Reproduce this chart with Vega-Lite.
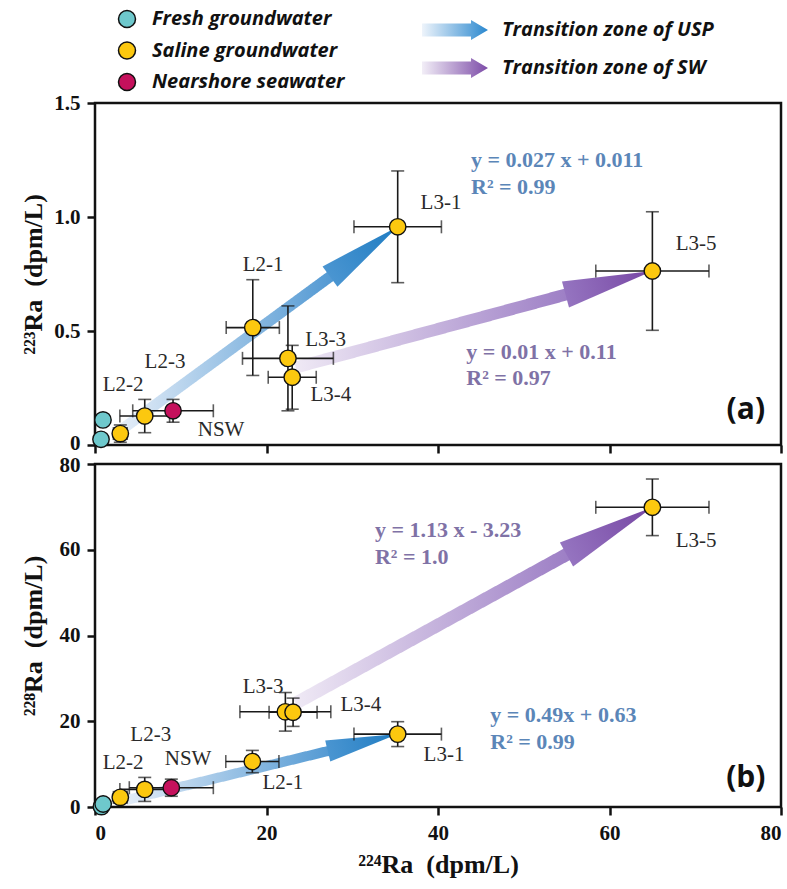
{
  "$schema": "https://vega.github.io/schema/vega-lite/v6.json",
  "padding": {"left": 18, "top": 9, "right": 5, "bottom": 0},
  "background": "white",
  "bounds": "flush",
  "spacing": 19,
  "config": {
    "view": {"stroke": "#111", "strokeWidth": 2.5},
    "axis": {
      "domain": false, "grid": false,
      "tickColor": "#111", "tickWidth": 2.5, "tickSize": 8,
      "labelFont": "Liberation Serif", "labelFontSize": 21, "labelFontWeight": "bold", "labelColor": "#111", "labelPadding": 7,
      "titleFont": "Liberation Serif", "titleFontSize": 26, "titleFontWeight": "bold", "titleColor": "#111"
    },
    "axisX": {"labelPadding": 7}
  },
  "datasets": {
    "ptsA": [
      {"type": "Fresh groundwater", "ra224": 0.93, "ra223": 0.11},
      {"type": "Fresh groundwater", "ra224": 0.7, "ra223": 0.025},
      {"type": "Saline groundwater", "site": "L2-2", "ra224": 2.95, "ra223": 0.05, "e224": 0.8, "e223": 0.038},
      {"type": "Saline groundwater", "site": "L2-3", "ra224": 5.8, "ra223": 0.127, "e224": 2.9, "e223": 0.073},
      {"type": "Nearshore seawater", "site": "NSW", "ra224": 9.1, "ra223": 0.15, "e224": 4.7, "e223": 0.05},
      {"type": "Saline groundwater", "site": "L2-1", "ra224": 18.4, "ra223": 0.515, "e224": 3.1, "e223": 0.21},
      {"type": "Saline groundwater", "site": "L3-3", "ra224": 22.5, "ra223": 0.38, "e224": 5.3, "e223": 0.23},
      {"type": "Saline groundwater", "site": "L3-4", "ra224": 23.0, "ra223": 0.297, "e224": 2.8, "e223": 0.14},
      {"type": "Saline groundwater", "site": "L3-1", "ra224": 35.3, "ra223": 0.957, "e224": 5.1, "e223": 0.245},
      {"type": "Saline groundwater", "site": "L3-5", "ra224": 65.0, "ra223": 0.763, "e224": 6.6, "e223": 0.26}
    ],
    "ptsB": [
      {"type": "Fresh groundwater", "ra224": 0.75, "ra228": 0.1},
      {"type": "Fresh groundwater", "ra224": 0.95, "ra228": 0.7},
      {"type": "Saline groundwater", "site": "L2-2", "ra224": 2.95, "ra228": 2.25, "e224": 0.8, "e228": 1.0},
      {"type": "Saline groundwater", "site": "L2-3", "ra224": 5.8, "ra228": 4.1, "e224": 2.9, "e228": 2.8},
      {"type": "Nearshore seawater", "site": "NSW", "ra224": 8.9, "ra228": 4.5, "e224": 4.9, "e228": 2.0},
      {"type": "Saline groundwater", "site": "L2-1", "ra224": 18.35, "ra228": 10.6, "e224": 3.1, "e228": 2.6},
      {"type": "Saline groundwater", "site": "L3-3", "ra224": 22.2, "ra228": 22.2, "e224": 5.3, "e228": 4.5},
      {"type": "Saline groundwater", "site": "L3-4", "ra224": 23.1, "ra228": 22.1, "e224": 2.8, "e228": 3.3},
      {"type": "Saline groundwater", "site": "L3-1", "ra224": 35.3, "ra228": 17.0, "e224": 5.1, "e228": 2.9},
      {"type": "Saline groundwater", "site": "L3-5", "ra224": 65.0, "ra228": 69.9, "e224": 6.6, "e228": 6.6}
    ],
    "arrA": [
      {"zone": "Transition zone of USP", "part": "shaft", "ra224": 3.0, "ra223": 0.065, "ra224_to": 28.26, "ra223_to": 0.762},
      {"zone": "Transition zone of USP", "part": "head", "ra224": 35.3, "ra223": 0.957},
      {"zone": "Transition zone of SW", "part": "shaft", "ra224": 23.4, "ra223": 0.34, "ra224_to": 56.0, "ra223_to": 0.671},
      {"zone": "Transition zone of SW", "part": "head", "ra224": 65.0, "ra223": 0.763}
    ],
    "arrB": [
      {"zone": "Transition zone of USP", "part": "shaft", "ra224": 3.6, "ra228": 1.6, "ra224_to": 28.03, "ra228_to": 13.47},
      {"zone": "Transition zone of USP", "part": "head", "ra224": 35.3, "ra228": 17.0},
      {"zone": "Transition zone of SW", "part": "shaft", "ra224": 23.4, "ra228": 24.2, "ra224_to": 56.0, "ra228_to": 60.0},
      {"zone": "Transition zone of SW", "part": "head", "ra224": 65.0, "ra228": 69.9}
    ],
    "labA": [
      {"text": "L3-1", "ra224": 40.35, "ra223": 1.061},
      {"text": "L2-1", "ra224": 19.6, "ra223": 0.789},
      {"text": "L3-3", "ra224": 26.9, "ra223": 0.46},
      {"text": "L3-4", "ra224": 27.5, "ra223": 0.219},
      {"text": "L2-3", "ra224": 8.16, "ra223": 0.364},
      {"text": "L2-2", "ra224": 3.27, "ra223": 0.263},
      {"text": "NSW", "ra224": 14.7, "ra223": 0.066},
      {"text": "L3-5", "ra224": 70.1, "ra223": 0.882}
    ],
    "labB": [
      {"text": "L3-3", "ra224": 19.6, "ra228": 28.0},
      {"text": "L3-4", "ra224": 31.0, "ra228": 23.8},
      {"text": "L2-3", "ra224": 6.5, "ra228": 16.8},
      {"text": "L2-2", "ra224": 3.27, "ra228": 10.3},
      {"text": "NSW", "ra224": 10.85, "ra228": 11.2},
      {"text": "L2-1", "ra224": 21.9, "ra228": 5.6},
      {"text": "L3-1", "ra224": 40.7, "ra228": 12.1},
      {"text": "L3-5", "ra224": 70.1, "ra228": 62.0}
    ],
    "eqA": [
      {"zone": "USP", "text": "y = 0.027 x + 0.011", "ra224": 43.85, "ra223": 1.25},
      {"zone": "USP", "text": "R² = 0.99", "ra224": 43.85, "ra223": 1.132},
      {"zone": "SW", "text": "y = 0.01 x + 0.11", "ra224": 43.3, "ra223": 0.408},
      {"zone": "SW", "text": "R² = 0.97", "ra224": 43.3, "ra223": 0.294},
      {"zone": "tag", "text": "(a)", "ra224": 75.9, "ra223": 0.154}
    ],
    "eqB": [
      {"zone": "SW", "text": "y = 1.13 x - 3.23", "ra224": 32.65, "ra228": 64.6},
      {"zone": "SW", "text": "R² = 1.0", "ra224": 32.65, "ra228": 58.3},
      {"zone": "USP", "text": "y = 0.49x + 0.63", "ra224": 46.1, "ra228": 21.4},
      {"zone": "USP", "text": "R² = 0.99", "ra224": 46.1, "ra228": 15.2},
      {"zone": "tag", "text": "(b)", "ra224": 75.9, "ra228": 6.8}
    ]
  },
  "vconcat": [
    {
      "width": 686,
      "height": 342,
      "encoding": {
        "x": {"field": "ra224", "type": "quantitative", "title": null,
              "scale": {"domain": [0, 80], "nice": false, "zero": false},
              "axis": {"values": [0, 20, 40, 60, 80], "labels": false, "title": null}},
        "y": {"field": "ra223", "type": "quantitative", "title": "²²³Ra\u00a0 (dpm/L)",
              "scale": {"domain": [0, 1.5], "nice": false},
              "axis": {"values": [0, 0.5, 1, 1.5],
                       "labelExpr": "datum.value === 0 ? '0' : format(datum.value, '.1f')",
                       "labelOffset": {"condition": {"test": "datum.value === 0", "value": -2}, "value": 0},
                       "titleX": -62, "titleY": 171, "titleAlign": "center", "titleBaseline": "middle", "titleAngle": -90}}
      },
      "layer": [
        {
          "data": {"name": "arrA"},
          "transform": [{"filter": "datum.zone === 'Transition zone of USP' && datum.part === 'shaft'"}],
          "mark": {"type": "rule", "strokeWidth": 11, "strokeCap": "butt",
                   "stroke": {"gradient": "linear", "x1": 0, "y1": 0, "x2": 1, "y2": 0,
                              "stops": [{"offset": 0, "color": "#e4edf8"}, {"offset": 1, "color": "#4f97d2"}]}},
          "encoding": {
            "x2": {"field": "ra224_to"}, "y2": {"field": "ra223_to"},
            "strokeDash": {"field": "zone", "type": "nominal",
              "scale": {"domain": ["Transition zone of USP", "Transition zone of SW"], "range": [[1, 0], [1, 0]]},
              "legend": {"orient": "none", "legendX": 350, "legendY": -83, "title": null, "padding": 0,
                "symbolType": "M-3.3,-0.65L1.6,-0.65L1.6,-1L3.3,0L1.6,1L1.6,0.65L-3.3,0.65Z", "symbolSize": 400,
                "symbolStrokeWidth": 0, "symbolStrokeColor": "transparent", "symbolOpacity": 1,
                "symbolFillColor": {"expr": "datum.value === 'Transition zone of USP' ? {gradient: 'linear', stops: [{offset: 0, color: '#eef4fb'}, {offset: 1, color: '#2a88cf'}]} : {gradient: 'linear', stops: [{offset: 0, color: '#f2eef7'}, {offset: 1, color: '#7d4ca8'}]}"},
                "labelFont": "Open Sans", "labelFontSize": 20, "labelFontWeight": "bold", "labelFontStyle": "italic", "labelColor": "#111",
                "labelOffset": 37, "labelLimit": 400, "rowPadding": 18}}
          }
        },
        {
          "data": {"name": "arrA"},
          "transform": [{"filter": "datum.zone === 'Transition zone of SW' && datum.part === 'shaft'"}],
          "mark": {"type": "rule", "strokeWidth": 12, "strokeCap": "butt",
                   "stroke": {"gradient": "linear", "x1": 0, "y1": 0, "x2": 1, "y2": 0,
                              "stops": [{"offset": 0, "color": "#efe9f5"}, {"offset": 1, "color": "#9b7cc4"}]}},
          "encoding": {
            "x2": {"field": "ra224_to"}, "y2": {"field": "ra223_to"},
            "strokeDash": {"field": "zone", "type": "nominal"}
          }
        },
        {
          "data": {"name": "arrA"},
          "transform": [{"filter": "datum.zone === 'Transition zone of USP' && datum.part === 'head'"}],
          "mark": {"type": "point", "shape": "M0,0L-2,-0.3L-2,0.3Z", "size": 7056, "angle": -36.3,
                   "filled": true, "opacity": 1, "strokeWidth": 0,
                   "fill": {"gradient": "linear", "stops": [{"offset": 0, "color": "#4a95d1"}, {"offset": 1, "color": "#1f7cc2"}]}}
        },
        {
          "data": {"name": "arrA"},
          "transform": [{"filter": "datum.zone === 'Transition zone of SW' && datum.part === 'head'"}],
          "mark": {"type": "point", "shape": "M0,0L-2,-0.3L-2,0.3Z", "size": 8100, "angle": -15.1,
                   "filled": true, "opacity": 1, "strokeWidth": 0,
                   "fill": {"gradient": "linear", "stops": [{"offset": 0, "color": "#9574c0"}, {"offset": 1, "color": "#7646a3"}]}}
        },
        {
          "data": {"name": "ptsA"},
          "transform": [{"filter": "datum.e224 > 0"}],
          "mark": {"type": "errorbar", "ticks": true, "size": 13, "thickness": 1.6, "color": "#1a1a1a"},
          "encoding": {"xError": {"field": "e224"}}
        },
        {
          "data": {"name": "ptsA"},
          "transform": [{"filter": "datum.e223 > 0"}],
          "mark": {"type": "errorbar", "ticks": true, "size": 13, "thickness": 1.6, "color": "#1a1a1a"},
          "encoding": {"yError": {"field": "e223"}}
        },
        {
          "data": {"name": "ptsA"},
          "mark": {"type": "point", "shape": "circle", "filled": true, "size": 270, "opacity": 1, "stroke": "#111", "strokeWidth": 1.4},
          "encoding": {
            "color": {"field": "type", "type": "nominal",
              "scale": {"domain": ["Fresh groundwater", "Saline groundwater", "Nearshore seawater"], "range": ["#6ec8cc", "#fcc80f", "#c5115c"]},
              "legend": {"orient": "none", "legendX": 22, "legendY": -94, "title": null, "padding": 0,
                "symbolType": "circle", "symbolSize": 289, "symbolStrokeColor": "#111", "symbolStrokeWidth": 1.5, "symbolOpacity": 1,
                "labelFont": "Open Sans", "labelFontSize": 20, "labelFontWeight": "bold", "labelFontStyle": "italic", "labelColor": "#111",
                "labelOffset": 15, "labelLimit": 400, "rowPadding": 7.5}}
          }
        },
        {
          "data": {"name": "labA"},
          "mark": {"type": "text", "font": "Liberation Serif", "fontSize": 21, "color": "#2a2a2a", "align": "center", "baseline": "middle"},
          "encoding": {"text": {"field": "text"}}
        },
        {
          "data": {"name": "eqA"},
          "transform": [{"filter": "datum.zone === 'USP'"}],
          "mark": {"type": "text", "font": "Liberation Serif", "fontSize": 22, "fontWeight": "bold", "color": "#5b86b8", "align": "left", "baseline": "middle"},
          "encoding": {"text": {"field": "text"}}
        },
        {
          "data": {"name": "eqA"},
          "transform": [{"filter": "datum.zone === 'SW'"}],
          "mark": {"type": "text", "font": "Liberation Serif", "fontSize": 22, "fontWeight": "bold", "color": "#7f72a6", "align": "left", "baseline": "middle"},
          "encoding": {"text": {"field": "text"}}
        },
        {
          "data": {"name": "eqA"},
          "transform": [{"filter": "datum.zone === 'tag'"}],
          "mark": {"type": "text", "font": "Open Sans", "fontSize": 30, "fontWeight": "bold", "color": "#111", "align": "center", "baseline": "middle"},
          "encoding": {"text": {"field": "text"}}
        }
      ]
    },
    {
      "width": 686,
      "height": 343,
      "encoding": {
        "x": {"field": "ra224", "type": "quantitative", "title": "²²⁴Ra\u00a0 (dpm/L)",
              "scale": {"domain": [0, 80], "nice": false, "zero": false},
              "axis": {"values": [0, 20, 40, 60, 80], "titleY": 57, "titleBaseline": "middle"}},
        "y": {"field": "ra228", "type": "quantitative", "title": "²²⁸Ra\u00a0 (dpm/L)",
              "scale": {"domain": [0, 80], "nice": false},
              "axis": {"values": [0, 20, 40, 60, 80],
                       "labelOffset": {"condition": {"test": "datum.value === 80", "value": 1}, "value": 0},
                       "titleX": -62, "titleY": 171.5, "titleAlign": "center", "titleBaseline": "middle", "titleAngle": -90}}
      },
      "layer": [
        {
          "data": {"name": "arrB"},
          "transform": [{"filter": "datum.zone === 'Transition zone of USP' && datum.part === 'shaft'"}],
          "mark": {"type": "rule", "strokeWidth": 10, "strokeCap": "butt",
                   "stroke": {"gradient": "linear", "x1": 0, "y1": 0, "x2": 1, "y2": 0,
                              "stops": [{"offset": 0, "color": "#e4edf8"}, {"offset": 1, "color": "#4f97d2"}]}},
          "encoding": {
            "x2": {"field": "ra224_to"}, "y2": {"field": "ra228_to"},
            "strokeDash": {"field": "zone", "type": "nominal"}
          }
        },
        {
          "data": {"name": "arrB"},
          "transform": [{"filter": "datum.zone === 'Transition zone of SW' && datum.part === 'shaft'"}],
          "mark": {"type": "rule", "strokeWidth": 13, "strokeCap": "butt",
                   "stroke": {"gradient": "linear", "x1": 0, "y1": 0, "x2": 1, "y2": 0,
                              "stops": [{"offset": 0, "color": "#efe9f5"}, {"offset": 1, "color": "#9b7cc4"}]}},
          "encoding": {
            "x2": {"field": "ra224_to"}, "y2": {"field": "ra228_to"},
            "strokeDash": {"field": "zone", "type": "nominal"}
          }
        },
        {
          "data": {"name": "arrB"},
          "transform": [{"filter": "datum.zone === 'Transition zone of USP' && datum.part === 'head'"}],
          "mark": {"type": "point", "shape": "M0,0L-2,-0.3L-2,0.3Z", "size": 5184, "angle": -13.65,
                   "filled": true, "opacity": 1, "strokeWidth": 0,
                   "fill": {"gradient": "linear", "stops": [{"offset": 0, "color": "#4a95d1"}, {"offset": 1, "color": "#1f7cc2"}]}}
        },
        {
          "data": {"name": "arrB"},
          "transform": [{"filter": "datum.zone === 'Transition zone of SW' && datum.part === 'head'"}],
          "mark": {"type": "point", "shape": "M0,0L-2,-0.28L-2,0.28Z", "size": 9604, "angle": -28.8,
                   "filled": true, "opacity": 1, "strokeWidth": 0,
                   "fill": {"gradient": "linear", "stops": [{"offset": 0, "color": "#9574c0"}, {"offset": 1, "color": "#7646a3"}]}}
        },
        {
          "data": {"name": "ptsB"},
          "transform": [{"filter": "datum.e224 > 0"}],
          "mark": {"type": "errorbar", "ticks": true, "size": 13, "thickness": 1.6, "color": "#1a1a1a"},
          "encoding": {"xError": {"field": "e224"}}
        },
        {
          "data": {"name": "ptsB"},
          "transform": [{"filter": "datum.e228 > 0"}],
          "mark": {"type": "errorbar", "ticks": true, "size": 13, "thickness": 1.6, "color": "#1a1a1a"},
          "encoding": {"yError": {"field": "e228"}}
        },
        {
          "data": {"name": "ptsB"},
          "mark": {"type": "point", "shape": "circle", "filled": true, "size": 270, "opacity": 1, "stroke": "#111", "strokeWidth": 1.4},
          "encoding": {
            "color": {"field": "type", "type": "nominal"}
          }
        },
        {
          "data": {"name": "labB"},
          "mark": {"type": "text", "font": "Liberation Serif", "fontSize": 21, "color": "#2a2a2a", "align": "center", "baseline": "middle"},
          "encoding": {"text": {"field": "text"}}
        },
        {
          "data": {"name": "eqB"},
          "transform": [{"filter": "datum.zone === 'USP'"}],
          "mark": {"type": "text", "font": "Liberation Serif", "fontSize": 22, "fontWeight": "bold", "color": "#5b86b8", "align": "left", "baseline": "middle"},
          "encoding": {"text": {"field": "text"}}
        },
        {
          "data": {"name": "eqB"},
          "transform": [{"filter": "datum.zone === 'SW'"}],
          "mark": {"type": "text", "font": "Liberation Serif", "fontSize": 22, "fontWeight": "bold", "color": "#7f72a6", "align": "left", "baseline": "middle"},
          "encoding": {"text": {"field": "text"}}
        },
        {
          "data": {"name": "eqB"},
          "transform": [{"filter": "datum.zone === 'tag'"}],
          "mark": {"type": "text", "font": "Open Sans", "fontSize": 30, "fontWeight": "bold", "color": "#111", "align": "center", "baseline": "middle"},
          "encoding": {"text": {"field": "text"}}
        }
      ]
    }
  ]
}
